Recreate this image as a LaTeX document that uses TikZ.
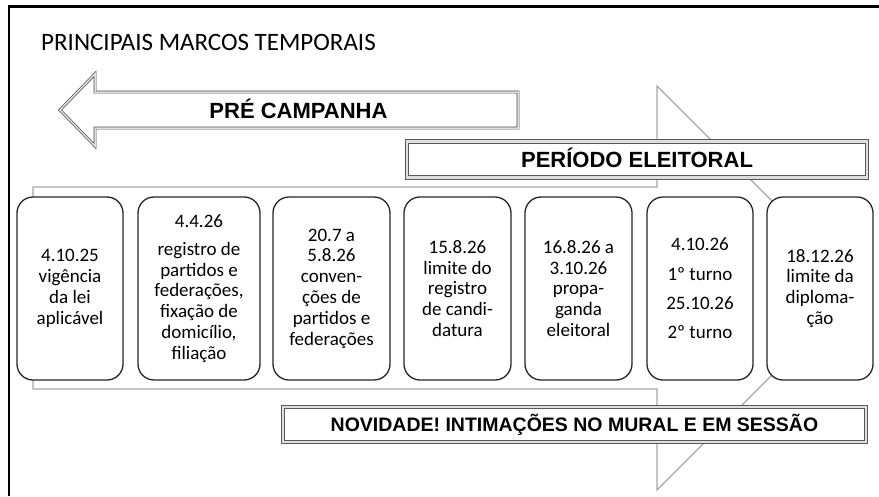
\documentclass[tikz,border=0pt]{standalone}
\usepackage{fontspec}
\setmainfont{Carlito}
\newfontfamily\rotulo{Liberation Sans}

\begin{document}
\begin{tikzpicture}[
    x=1pt, y=-1pt,
    marco/.style={rectangle, draw=black!85, line width=1.3pt, rounded corners=16pt, fill=white, minimum height=183pt, align=center, inner sep=0pt, font=\fontsize{19}{20.8}\selectfont},
    faixa/.style={rectangle, draw=gray!70!black, line width=0.8pt, double=gray!25, double distance=2.5pt, fill=white, inner sep=0pt, text depth=0pt},
    seta/.style={draw=gray!60!black, line width=0.7pt, double=gray!25, double distance=1.5pt, fill=white},
    fundo/.style={draw=gray!70, line width=1.2pt, fill=white},
    destaque/.style={font=\rotulo\bfseries\fontsize{22}{24}\selectfont}
]
    \useasboundingbox (0,0) rectangle (879,496);

    % moldura e titulo
    \draw[line width=2.5pt] (9,496) -- (9,6.5) -- (879,6.5);
    \node[anchor=base west, inner sep=0pt, font=\fontsize{25}{30}\selectfont] (titulo) at (41,50) {PRINCIPAIS MARCOS TEMPORAIS};

    % seta de fundo
    \draw[fundo] (33,187) -- (657,187) -- (657,86) -- (859,288) -- (657,490) -- (657,389) -- (33,389) -- cycle;

    % pre campanha
    \draw[seta] (518,92) -- (95,92) -- (95,74) -- (60,110) -- (95,146) -- (95,128) -- (518,128) -- cycle;
    \node[destaque, anchor=base, inner sep=0pt] (pre) at (298.5,118) {PRÉ CAMPANHA};

    \node[faixa, destaque, minimum width=460pt, minimum height=36pt, text height=15.8pt] (periodo) at (637,159.5) {PERÍODO ELEITORAL};

    \node[marco, minimum width=106pt] (m1) at (70,288.5) {4.10.25\\vigência\\da lei\\aplicável};
    \node[marco, minimum width=122pt] (m2) at (199,288.5) {4.4.26\\[7pt]registro de\\partidos e\\federações,\\fixação de\\domicílio,\\filiação};
    \node[marco, minimum width=117pt] (m3) at (331.5,288.5) {20.7 a\\5.8.26\\conven-\\ções de\\partidos e\\federações};
    \node[marco, minimum width=107pt] (m4) at (457.5,288.5) {15.8.26\\limite do\\registro\\de candi-\\datura};
    \node[marco, minimum width=107pt] (m5) at (578.5,288.5) {16.8.26 a\\3.10.26\\propa-\\ganda\\eleitoral};
    \node[marco, minimum width=106pt] (m6) at (700,288.5) {4.10.26\\[8.5pt]1º turno\\[8.5pt]25.10.26\\[8.5pt]2º turno};
    \node[marco, minimum width=106pt] (m7) at (820,288.5) {18.12.26\\limite da\\diploma-\\ção};

    \node[faixa, font=\rotulo\bfseries\fontsize{19.5}{22}\selectfont, minimum width=583pt, minimum height=35pt, text height=14pt] (novidade) at (574.5,424.5) {NOVIDADE! INTIMAÇÕES NO MURAL E EM SESSÃO};
\end{tikzpicture}
\end{document}
